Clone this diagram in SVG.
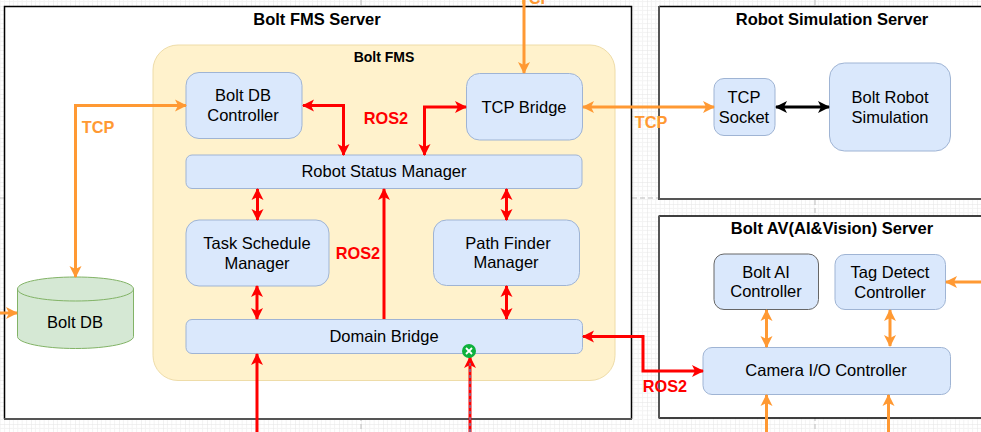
<svg xmlns="http://www.w3.org/2000/svg" width="981" height="432" viewBox="0 0 981 432">
<style>
text{font-family:"Liberation Sans",Arial,sans-serif;font-size:16.5px;fill:#000;text-anchor:middle}
.t{font-weight:bold}
.srv{fill:#fff}
.e1{stroke:#000;stroke-width:1.500;fill:none}
.e2{stroke:#555;stroke-width:2;fill:none}
.pb{stroke:#bbb;stroke-width:1;stroke-dasharray:5 3;fill:none}
.b{fill:#dae8fc;stroke:#9fb4d4;stroke-width:1}
.r{fill:none;stroke:#f00;stroke-width:3}
.o{fill:none;stroke:#f93;stroke-width:3}
.k{fill:none;stroke:#000;stroke-width:3}
.lr{fill:#f00;font-weight:bold;font-size:16.300px}
.lo{fill:#f93;font-weight:bold;font-size:16.300px}
</style>
<defs>
<pattern id="g" width="22" height="22" patternUnits="userSpaceOnUse" x="9" y="6"><path d="M4.4 0V22M8.8 0V22M13.2 0V22M17.6 0V22M0 4.4H22M0 8.8H22M0 13.2H22M0 17.6H22" stroke="#f3f3f3" stroke-width="1" fill="none"/><path d="M0 0V22M0 0H22" stroke="#e4e4e4" stroke-width="1" fill="none"/></pattern>
<marker id="mr" markerUnits="userSpaceOnUse" markerWidth="14" markerHeight="14" refX="11" refY="6.5" orient="auto-start-reverse"><path d="M0 0.5L12 6.5L0 12.5L3 6.5Z" fill="#f00"/></marker>
<marker id="mo" markerUnits="userSpaceOnUse" markerWidth="14" markerHeight="14" refX="11" refY="6.5" orient="auto-start-reverse"><path d="M0 0.5L12 6.5L0 12.5L3 6.5Z" fill="#f93"/></marker>
<marker id="mk" markerUnits="userSpaceOnUse" markerWidth="14" markerHeight="14" refX="11" refY="6.5" orient="auto-start-reverse"><path d="M0 0.5L12 6.5L0 12.5L3 6.5Z" fill="#000"/></marker>
</defs>
<rect width="981" height="432" fill="url(#g)"/>
<path class="pb" d="M361 0V432M815 0V432M0 198H981"/>
<g id="fms-server"><rect class="srv" x="4.500" y="6.500" width="627" height="412.500"/><path class="e1" d="M4.500 419V6.500H631.500V419"/><path class="e2" d="M4 419H632"/><text class="t" x="317" y="25">Bolt FMS Server</text></g>
<g id="sim-server"><rect class="srv" x="659" y="6.500" width="330" height="192.500"/><path class="e1" d="M659 6.500H981"/><path class="e2" d="M981 199H659V6"/><text class="t" x="832" y="25">Robot Simulation Server</text></g>
<g id="av-server"><rect class="srv" x="659" y="216" width="330" height="202"/><path class="e1" d="M659 216H981M659 418H981"/><path class="e2" d="M659 215.500V418.500"/><text class="t" x="832" y="234">Bolt AV(AI&amp;Vision) Server</text></g>
<g id="fms"><rect x="153" y="45" width="462" height="335.500" rx="25" fill="#fff2cc" stroke="#eedcA8"/><text class="t" x="384" y="62" style="font-size:14px">Bolt FMS</text></g>
<g id="db-controller"><rect class="b" x="186" y="72.500" width="116" height="66" rx="13"/><text x="243" y="101">Bolt DB</text><text x="243" y="121">Controller</text></g>
<g id="tcp-bridge"><rect class="b" x="466.500" y="73.500" width="116" height="66.500" rx="13"/><text x="524" y="113">TCP Bridge</text></g>
<g id="status"><rect class="b" x="186" y="155" width="396" height="33.500" rx="6"/><text x="384" y="177">Robot Status Manager</text></g>
<g id="task"><rect class="b" x="186" y="220" width="143" height="66" rx="13"/><text x="257" y="249">Task Schedule</text><text x="257" y="269">Manager</text></g>
<g id="path"><rect class="b" x="433.500" y="220" width="146" height="65.500" rx="13"/><text x="508" y="249">Path Finder</text><text x="506" y="268">Manager</text></g>
<g id="domain"><rect class="b" x="186" y="319.500" width="396.500" height="34" rx="6"/><text x="384" y="342">Domain Bridge</text></g>
<g id="db"><path d="M17.500 289C17.500 282 43 277 75.500 277S133.500 282 133.500 289V336.500C133.500 343 108 348.500 75.500 348.500S17.500 343 17.500 336.500Z" fill="#d5e8d4" stroke="#82b366"/><path d="M17.500 289C17.500 296 43 301 75.500 301S133.500 296 133.500 289" fill="none" stroke="#82b366"/><text x="75" y="328">Bolt DB</text></g>
<g id="tcp-socket"><rect class="b" x="714" y="78.500" width="61" height="57" rx="10"/><text x="744" y="103">TCP</text><text x="744" y="123">Socket</text></g>
<g id="robot-sim"><rect class="b" x="829.500" y="63" width="121" height="88" rx="15"/><text x="890" y="103">Bolt Robot</text><text x="890" y="123">Simulation</text></g>
<g id="ai"><rect class="b" x="714" y="254" width="104.500" height="55.500" rx="10" style="stroke:#666"/><text x="766" y="278">Bolt AI</text><text x="766" y="297">Controller</text></g>
<g id="tag"><rect class="b" x="835" y="254.500" width="110.500" height="55" rx="10"/><text x="890" y="278">Tag Detect</text><text x="890" y="298">Controller</text></g>
<g id="camera"><rect class="b" x="703" y="347.500" width="247.500" height="47" rx="9"/><text x="826" y="376">Camera I/O Controller</text></g>
<g id="connectors">
<path class="o" d="M186 105.500H75.500V277" marker-start="url(#mo)" marker-end="url(#mo)"/>
<path class="o" d="M0 313H17" marker-end="url(#mo)"/>
<path class="o" d="M524 0V73" marker-end="url(#mo)"/>
<path class="o" d="M583 107H714" marker-start="url(#mo)" marker-end="url(#mo)"/>
<path class="k" d="M776 107H829" marker-start="url(#mk)" marker-end="url(#mk)"/>
<path class="r" d="M303 105.500H343.500V155" marker-start="url(#mr)" marker-end="url(#mr)"/>
<path class="r" d="M466 107H424.500V155" marker-start="url(#mr)" marker-end="url(#mr)"/>
<path class="r" d="M257.500 189V220" marker-start="url(#mr)" marker-end="url(#mr)"/>
<path class="r" d="M506.500 189V220" marker-start="url(#mr)" marker-end="url(#mr)"/>
<path class="r" d="M384 319V189" marker-end="url(#mr)"/>
<path class="r" d="M257 286V319" marker-start="url(#mr)" marker-end="url(#mr)"/>
<path class="r" d="M506.500 286V319" marker-start="url(#mr)" marker-end="url(#mr)"/>
<path class="r" d="M257 432V354" marker-end="url(#mr)"/>
<path class="r" d="M470 432V357" marker-end="url(#mr)"/>
<path d="M470 432V362" fill="none" stroke="#29b6f2" stroke-width="1" stroke-dasharray="3 3"/>
<path class="r" d="M583 336.500H643V371H703" marker-start="url(#mr)" marker-end="url(#mr)"/>
<path class="o" d="M766.500 310V347" marker-start="url(#mo)" marker-end="url(#mo)"/>
<path class="o" d="M890 310V346" marker-start="url(#mo)" marker-end="url(#mo)"/>
<path class="o" d="M981 282H946" marker-end="url(#mo)"/>
<path class="o" d="M766.500 432V395" marker-end="url(#mo)"/>
<path class="o" d="M888.500 432V395" marker-end="url(#mo)"/>
<text class="lo" x="98" y="133">TCP</text>
<text class="lo" x="535" y="4">TCP</text>
<text class="lo" x="651" y="128">TCP</text>
<text class="lr" x="386" y="124">ROS2</text>
<text class="lr" x="358" y="259">ROS2</text>
<text class="lr" x="665" y="392">ROS2</text>
<circle cx="469" cy="351" r="7" fill="#0eb13c"/><path d="M466 348L472 354M472 348L466 354" stroke="#fff" stroke-width="1.800"/>
</g>
</svg>
